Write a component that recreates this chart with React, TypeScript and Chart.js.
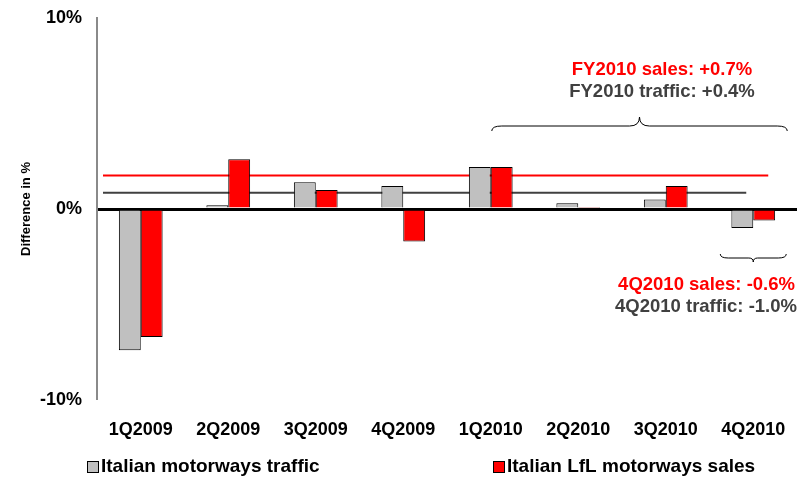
import React, { useEffect, useRef } from "react";
import { Chart, registerables } from "chart.js";

Chart.register(...registerables);

const categories = ["1Q2009", "2Q2009", "3Q2009", "4Q2009", "1Q2010", "2Q2010", "3Q2010", "4Q2010"];
const trafficValues = [-7.4, 0.2, 1.4, 1.2, 2.2, 0.3, 0.5, -1.0];
const salesValues = [-6.7, 2.6, 1.0, -1.7, 2.2, 0.1, 1.2, -0.6];
const seriesLabels = ["Italian motorways traffic", "Italian LfL motorways sales"];
const yTicks = [-10, 0, 10];
const refLineValues = [1.75, 0.85]; // red (sales avg), grey (traffic avg)
const fyNotes = ["FY2010 sales: +0.7%", "FY2010 traffic: +0.4%"];
const q4Notes = ["4Q2010 sales: -0.6%", "4Q2010 traffic: -1.0%"];
const yTitle = "Difference in %";

const GREY = "#C0C0C0";
const RED = "#FF0000";
const DARK = "#404040";
const FONT = "'Liberation Sans', Arial, sans-serif";

function brace(ctx: CanvasRenderingContext2D, x1: number, x2: number, yEnd: number, yMid: number, yTip: number) {
  const xm = (x1 + x2) / 2;
  const r = Math.abs(yEnd - yMid) * 2;
  const r2 = Math.abs(yTip - yMid) * 1.1;
  ctx.beginPath();
  ctx.moveTo(x1, yEnd);
  ctx.quadraticCurveTo(x1, yMid, x1 + r, yMid);
  ctx.lineTo(xm - r2, yMid);
  ctx.quadraticCurveTo(xm, yMid, xm, yTip);
  ctx.quadraticCurveTo(xm, yMid, xm + r2, yMid);
  ctx.lineTo(x2 - r, yMid);
  ctx.quadraticCurveTo(x2, yMid, x2, yEnd);
  ctx.stroke();
}

const overlayPlugin = {
  id: "overlay",
  beforeDatasetsDraw(chart: any) {
    const ctx = chart.ctx;
    const y = chart.scales.y;
    const x = chart.scales.x;
    const left = chart.chartArea.left;
    ctx.save();
    ctx.lineWidth = 2;
    ctx.strokeStyle = RED;
    ctx.beginPath();
    const yr = y.getPixelForValue(refLineValues[0]);
    ctx.moveTo(left + 6, yr);
    ctx.lineTo(x.getPixelForValue(7) + 15, yr);
    ctx.stroke();
    ctx.strokeStyle = DARK;
    const yg = y.getPixelForValue(refLineValues[1]);
    ctx.beginPath();
    ctx.moveTo(left + 6, yg);
    ctx.lineTo(x.getPixelForValue(7) - 7, yg);
    ctx.stroke();
    ctx.restore();
  },
  afterDraw(chart: any) {
    const ctx = chart.ctx;
    const x = chart.scales.x;
    ctx.save();
    // braces
    ctx.strokeStyle = "#000";
    ctx.lineWidth = 1;
    brace(ctx, x.getPixelForValue(4) + 1, x.getPixelForValue(7) + 34, 131, 126, 117);
    brace(ctx, x.getPixelForValue(7) - 33, x.getPixelForValue(7) + 33, 254, 258, 262);
    // notes
    ctx.font = `bold 18.5px ${FONT}`;
    ctx.textAlign = "center";
    ctx.textBaseline = "middle";
    ctx.fillStyle = RED;
    ctx.fillText(fyNotes[0], 662, 70);
    ctx.fillStyle = DARK;
    ctx.fillText(fyNotes[1], 662, 92);
    ctx.textAlign = "right";
    ctx.fillStyle = RED;
    ctx.fillText(q4Notes[0], 795, 285);
    ctx.fillStyle = DARK;
    ctx.fillText(q4Notes[1], 797, 307);
    // legend
    const items = [
      { color: GREY, x: 87 },
      { color: RED, x: 493 },
    ];
    ctx.textAlign = "left";
    ctx.font = `bold 19px ${FONT}`;
    items.forEach((it, i) => {
      ctx.fillStyle = it.color;
      ctx.fillRect(it.x, 461, 11, 12);
      ctx.strokeStyle = "#000";
      ctx.lineWidth = 1;
      ctx.strokeRect(it.x + 0.5, 461.5, 11, 11);
      ctx.fillStyle = "#000";
      ctx.fillText(chart.data.datasets[i].label, it.x + 14, 467);
    });
    ctx.restore();
  },
};

export default function App() {
  const ref = useRef<HTMLCanvasElement>(null);
  useEffect(() => {
    const chart = new Chart(ref.current!, {
      type: "bar",
      data: {
        labels: categories,
        datasets: [
          { label: seriesLabels[0], data: trafficValues, backgroundColor: GREY, borderColor: "#000", borderWidth: 1 },
          { label: seriesLabels[1], data: salesValues, backgroundColor: RED, borderColor: "#000", borderWidth: 1 },
        ],
      },
      options: {
        animation: false,
        responsive: false,
        maintainAspectRatio: false,
        datasets: { bar: { categoryPercentage: 0.5, barPercentage: 1 } },
        layout: { padding: { left: 0, right: 12, top: 18, bottom: 0 } },
        plugins: { legend: { display: false }, tooltip: { enabled: false } },
        scales: {
          x: {
            grid: { display: false },
            border: { display: false },
            ticks: { color: "#000", font: { family: FONT, size: 18, weight: "bold" }, padding: 11, maxRotation: 0 },
            afterFit: (s: any) => { s.height = 80; s.paddingLeft = 0; s.paddingRight = 0; },
          },
          y: {
            min: -10,
            max: 10,
            afterBuildTicks: (s: any) => { s.ticks = yTicks.map((v) => ({ value: v })); },
            ticks: {
              color: "#000",
              font: { family: FONT, size: 18, weight: "bold" },
              padding: 15,
              callback: (v: any) => `${v}%`,
            },
            grid: {
              drawTicks: false,
              color: (c: any) => (c.tick && c.tick.value === 0 ? "#000" : "rgba(0,0,0,0)"),
              lineWidth: (c: any) => (c.tick && c.tick.value === 0 ? 3 : 0),
            },
            border: { display: true, color: "#8a8a8a", width: 2 },
            title: { display: true, text: yTitle, color: "#000", font: { family: FONT, size: 13, weight: "bold" }, padding: { top: 19, bottom: 0 } },
            afterFit: (s: any) => { s.width = 97; s.paddingTop = 0; s.paddingBottom = 0; },
          },
        },
      },
      plugins: [overlayPlugin],
    } as any);
    return () => chart.destroy();
  }, []);
  return (
    <div style={{ position: "fixed", left: 0, top: 0, width: 809, height: 480, background: "#fff" }}>
      <canvas ref={ref} width={809} height={480} style={{ display: "block" }} />
    </div>
  );
}
